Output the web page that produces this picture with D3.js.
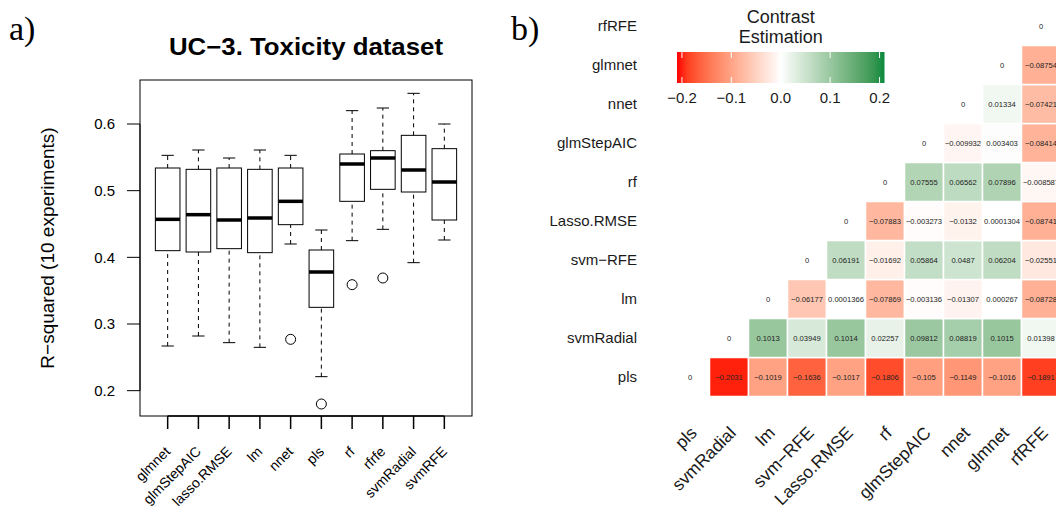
<!DOCTYPE html>
<html>
<head>
<meta charset="utf-8">
<script src="https://cdn.jsdelivr.net/npm/d3@7"></script>
<style>
  body { margin: 0; background: #fff; }
  svg { display: block; font-family: "Liberation Sans", Arial, sans-serif; }
  .panel-tag { font-family: "Liberation Serif", "DejaVu Serif", serif; font-size: 34px; }
</style>
</head>
<body>
<div id="chart"></div>
<script>
// ---------- a) boxplot data (R-squared over 10 experiments) ----------
const boxModels = ["glmnet", "glmStepAIC", "lasso.RMSE", "lm", "nnet", "pls", "rf", "rfrfe", "svmRadial", "svmRFE"];
const boxLower  = [0.267, 0.282, 0.272, 0.265, 0.420, 0.221, 0.425, 0.442, 0.392, 0.426];
const boxQ1     = [0.410, 0.408, 0.413, 0.407, 0.449, 0.325, 0.484, 0.502, 0.498, 0.456];
const boxMedian = [0.457, 0.464, 0.456, 0.459, 0.484, 0.378, 0.540, 0.549, 0.531, 0.513];
const boxQ3     = [0.534, 0.532, 0.534, 0.532, 0.534, 0.411, 0.555, 0.560, 0.583, 0.563];
const boxUpper  = [0.553, 0.561, 0.549, 0.561, 0.553, 0.441, 0.620, 0.624, 0.646, 0.600];
const boxOutliers = [["nnet", 0.277], ["pls", 0.180], ["rf", 0.359], ["rfrfe", 0.369]];
const yTicks = [0.2, 0.3, 0.4, 0.5, 0.6];

// ---------- b) contrast estimation matrix ----------
const hmModels = ["pls", "svmRadial", "lm", "svm-RFE", "Lasso.RMSE", "rf", "glmStepAIC", "nnet", "glmnet", "rfRFE"];
// row i holds contrasts of model i against models i+1 .. 9
const contrastRows = [
    [-0.2031, -0.1019, -0.1636, -0.1017, -0.1806, -0.105, -0.1149, -0.1016, -0.1891],
    [0.1013, 0.03949, 0.1014, 0.02257, 0.09812, 0.08819, 0.1015, 0.01398],
    [-0.06177, 0.0001366, -0.07869, -0.003136, -0.01307, 0.000267, -0.08728],
    [0.06191, -0.01692, 0.05864, 0.0487, 0.06204, -0.02551],
    [-0.07883, -0.003273, -0.0132, 0.0001304, -0.08741],
    [0.07555, 0.06562, 0.07896, -0.008587],
    [-0.009932, 0.003403, -0.08414],
    [0.01334, -0.07421],
    [-0.08754],
    []
];
const legendTicks = [-0.2, -0.1, 0.0, 0.1, 0.2];


const svg = d3.select("#chart")
    .append("svg")
    .attr("width", 1056)
    .attr("height", 508);

const minus = (s) => s.replace(/-/g, "\u2212");


// **********************************************************
//                    a) boxplot panel
// **********************************************************

svg.append("text").attr("class", "panel-tag").attr("x", 9).attr("y", 40).text("a)");

const box = {left: 140, right: 472, top: 80, bottom: 416};

const xBox = d3.scaleLinear().domain([0.1, 10.9]).range([box.left, box.right]);
const yBox = d3.scaleLinear().domain([0.162, 0.666]).range([box.bottom, box.top]);
const bw = xBox(0.8) - xBox(0);

svg.append("text")
    .attr("x", (box.left + box.right) / 2)
    .attr("y", 55)
    .attr("text-anchor", "middle")
    .attr("textLength", 274)
    .attr("lengthAdjust", "spacingAndGlyphs")
    .style("font-weight", "bold")
    .style("font-size", "24px")
    .text("UC\u22123. Toxicity dataset");

const gBox = svg.append("g");

boxModels.forEach((m, i) => {
    const cx = xBox(i + 1);
    const g = gBox.append("g");
    // whiskers
    [[boxLower[i], boxQ1[i]], [boxQ3[i], boxUpper[i]]].forEach(([a, b]) => {
        g.append("line")
            .attr("x1", cx).attr("x2", cx)
            .attr("y1", yBox(a)).attr("y2", yBox(b))
            .attr("stroke", "#000").attr("stroke-dasharray", "4,4");
    });
    // staples
    [boxLower[i], boxUpper[i]].forEach((v) => {
        g.append("line")
            .attr("x1", cx - bw / 4).attr("x2", cx + bw / 4)
            .attr("y1", yBox(v)).attr("y2", yBox(v))
            .attr("stroke", "#000");
    });
    g.append("rect")
        .attr("x", cx - bw / 2).attr("width", bw)
        .attr("y", yBox(boxQ3[i])).attr("height", yBox(boxQ1[i]) - yBox(boxQ3[i]))
        .attr("fill", "#fff").attr("stroke", "#000");
    g.append("line")
        .attr("x1", cx - bw / 2).attr("x2", cx + bw / 2)
        .attr("y1", yBox(boxMedian[i])).attr("y2", yBox(boxMedian[i]))
        .attr("stroke", "#000").attr("stroke-width", 3.5);
});

gBox.selectAll(".outlier")
    .data(boxOutliers)
    .enter()
    .append("circle")
    .attr("class", "outlier")
    .attr("cx", (d) => xBox(boxModels.indexOf(d[0]) + 1))
    .attr("cy", (d) => yBox(d[1]))
    .attr("r", 5)
    .attr("fill", "none")
    .attr("stroke", "#000");

// frame
svg.append("rect")
    .attr("x", box.left).attr("y", box.top)
    .attr("width", box.right - box.left).attr("height", box.bottom - box.top)
    .attr("fill", "none").attr("stroke", "#000");

// y axis
const yAxis = svg.append("g");
yAxis.append("line")
    .attr("x1", box.left).attr("x2", box.left)
    .attr("y1", yBox(0.2)).attr("y2", yBox(0.6))
    .attr("stroke", "#000");
yTicks.forEach((t) => {
    yAxis.append("line")
        .attr("x1", box.left - 13).attr("x2", box.left)
        .attr("y1", yBox(t)).attr("y2", yBox(t))
        .attr("stroke", "#000");
    yAxis.append("text")
        .attr("x", box.left - 25)
        .attr("y", yBox(t))
        .attr("dy", "0.35em")
        .attr("text-anchor", "end")
        .style("font-size", "15px")
        .text(d3.format(".1f")(t));
});

svg.append("text")
    .attr("transform", `translate(54,${(box.top + box.bottom) / 2}) rotate(-90)`)
    .attr("text-anchor", "middle")
    .style("font-size", "19px")
    .text("R\u2212squared (10 experiments)");

// x axis
const xAxis = svg.append("g");
xAxis.append("line")
    .attr("x1", xBox(1)).attr("x2", xBox(10))
    .attr("y1", box.bottom).attr("y2", box.bottom)
    .attr("stroke", "#000").attr("stroke-width", 1.5);
boxModels.forEach((m, i) => {
    const cx = xBox(i + 1);
    xAxis.append("line")
        .attr("x1", cx).attr("x2", cx)
        .attr("y1", box.bottom).attr("y2", box.bottom + 13)
        .attr("stroke", "#000").attr("stroke-width", 1.5);
    xAxis.append("text")
        .attr("transform", `translate(${cx},449) rotate(-45)`)
        .attr("dy", "0.35em")
        .attr("text-anchor", "end")
        .style("font-size", "14px")
        .text(m);
});


// **********************************************************
//                    b) heatmap panel
// **********************************************************

svg.append("text").attr("class", "panel-tag").attr("x", 511).attr("y", 40).text("b)");

const xHm = d3.scaleBand().domain(hmModels).range([670.5, 1060.5]);
const yHm = d3.scaleBand().domain(hmModels.slice().reverse()).range([6.5, 396.5]);

const colorHm = d3.scaleLinear()
    .domain([-0.21, 0, 0.21])
    .range(["#ff0000", "#ffffff", "#0b8a3e"])
    .interpolate(d3.interpolateLab)
    .clamp(true);

const cells = [];
contrastRows.forEach((row, i) => {
    cells.push({row: hmModels[i], col: hmModels[i], value: 0, diag: true});
    row.forEach((v, k) => {
        cells.push({row: hmModels[i], col: hmModels[i + 1 + k], value: v, diag: false});
    });
});

const gHm = svg.append("g");

gHm.selectAll(".cell")
    .data(cells.filter((d) => !d.diag))
    .enter()
    .append("rect")
    .attr("class", "cell")
    .attr("x", (d) => xHm(d.col))
    .attr("y", (d) => yHm(d.row))
    .attr("width", xHm.bandwidth())
    .attr("height", yHm.bandwidth())
    .attr("fill", (d) => colorHm(d.value))
    .attr("stroke", "#fff")
    .attr("stroke-width", 1.5);

gHm.selectAll(".cell-label")
    .data(cells)
    .enter()
    .append("text")
    .attr("class", "cell-label")
    .attr("x", (d) => xHm(d.col) + xHm.bandwidth() / 2)
    .attr("y", (d) => yHm(d.row) + yHm.bandwidth() / 2)
    .attr("dy", "0.35em")
    .attr("text-anchor", "middle")
    .style("font-size", "7.6px")
    .attr("fill", "#222")
    .text((d) => minus(String(d.value)));

// row labels
gHm.selectAll(".row-label")
    .data(hmModels)
    .enter()
    .append("text")
    .attr("class", "row-label")
    .attr("x", 637)
    .attr("y", (d) => yHm(d) + yHm.bandwidth() / 2)
    .attr("dy", "0.35em")
    .attr("text-anchor", "end")
    .style("font-size", "15px")
    .attr("fill", "#1a1a1a")
    .text((d) => minus(d));

// column labels
gHm.selectAll(".col-label")
    .data(hmModels)
    .enter()
    .append("text")
    .attr("class", "col-label")
    .attr("transform", (d) => `translate(${xHm(d) + xHm.bandwidth() / 2 + 8},434) rotate(-45)`)
    .attr("text-anchor", "end")
    .style("font-size", "17.5px")
    .attr("fill", "#1a1a1a")
    .text((d) => minus(d));

// legend (colour bar)
const xLeg = d3.scaleLinear().domain([-0.21, 0.21]).range([677, 884.5]);
const legY = 52, legH = 31;

const defs = svg.append("defs");
const grad = defs.append("linearGradient").attr("id", "contrastGrad");
d3.range(0, 1.0001, 0.05).forEach((t) => {
    grad.append("stop")
        .attr("offset", t)
        .attr("stop-color", colorHm(-0.21 + 0.42 * t));
});

const gLeg = svg.append("g");
gLeg.append("rect")
    .attr("x", xLeg(-0.21)).attr("y", legY)
    .attr("width", xLeg(0.21) - xLeg(-0.21)).attr("height", legH)
    .attr("fill", "url(#contrastGrad)");

legendTicks.forEach((t) => {
    const x = xLeg(t);
    gLeg.append("line").attr("x1", x).attr("x2", x).attr("y1", legY).attr("y2", legY + 6)
        .attr("stroke", "#fff").attr("stroke-width", 1);
    gLeg.append("line").attr("x1", x).attr("x2", x).attr("y1", legY + legH - 6).attr("y2", legY + legH)
        .attr("stroke", "#fff").attr("stroke-width", 1);
    gLeg.append("text")
        .attr("x", x).attr("y", 103)
        .attr("text-anchor", "middle")
        .style("font-size", "15px")
        .attr("fill", "#1a1a1a")
        .text(minus(d3.format(".1f")(t)));
});

gLeg.append("text")
    .attr("x", xLeg(0)).attr("y", 23)
    .attr("text-anchor", "middle")
    .style("font-size", "18px")
    .attr("fill", "#1a1a1a")
    .text("Contrast");
gLeg.append("text")
    .attr("x", xLeg(0)).attr("y", 43)
    .attr("text-anchor", "middle")
    .style("font-size", "18px")
    .attr("fill", "#1a1a1a")
    .text("Estimation");
</script>
</body>
</html>
